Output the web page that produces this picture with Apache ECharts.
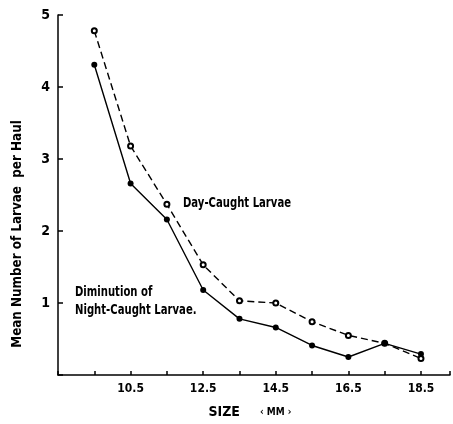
<!DOCTYPE html>
<html><head><meta charset="utf-8">
<script src="https://cdn.jsdelivr.net/npm/echarts@6/dist/echarts.min.js"></script>
<style>html,body{margin:0;padding:0;background:#fff}#c{width:453px;height:424px}</style>
</head><body><div id="c"></div>
<script>
const sizes = [9.5, 10.5, 11.5, 12.5, 13.5, 14.5, 15.5, 16.5, 17.5, 18.5];
const dayCaught = [4.78, 3.18, 2.37, 1.53, 1.03, 1.0, 0.74, 0.55, 0.44, 0.23];
const nightCaught = [4.31, 2.66, 2.16, 1.18, 0.78, 0.66, 0.41, 0.25, 0.44, 0.29];
const xTickLabels = [10.5, 12.5, 14.5, 16.5, 18.5];
const yTickLabels = [1, 2, 3, 4, 5];

const FONT = '"DejaVu Sans Condensed", "DejaVu Sans", sans-serif';
const chart = echarts.init(document.getElementById('c'));
chart.setOption({
  animation: false,
  backgroundColor: '#fff',
  grid: {left: 58, right: 0, top: 15, bottom: 44},
  xAxis: {
    type: 'value', min: 8.5, max: 19.3, interval: 1,
    axisLine: {lineStyle: {color: '#000', width: 1.5}},
    axisTick: {inside: true, length: 4, lineStyle: {color: '#000', width: 1.5}},
    splitLine: {show: false},
    showMaxLabel: false,
    axisLabel: {
      color: '#000', fontFamily: FONT, fontWeight: 'bold', fontSize: 12, margin: 8,
      formatter: v => xTickLabels.some(t => Math.abs(t - v) < 1e-6) ? v.toFixed(1) : ''
    },
    name: '{a|SIZE}{s|}{b|\u2039 MM \u203a}', nameLocation: 'middle', nameGap: 30,
    nameTextStyle: {
      color: '#000', padding: [0, 8, 0, 0],
      rich: {
        a: {fontFamily: FONT, fontWeight: 'bold', fontSize: 14, color: '#000'},
        s: {width: 20},
        b: {fontFamily: FONT, fontWeight: 'bold', fontSize: 10, color: '#000'}
      }
    }
  },
  yAxis: {
    type: 'value', min: 0, max: 5, interval: 1,
    axisLine: {show: true, lineStyle: {color: '#000', width: 1.5}},
    axisTick: {show: true, inside: true, length: 5, lineStyle: {color: '#000', width: 1.5}},
    splitLine: {show: false},
    axisLabel: {
      color: '#000', fontFamily: FONT, fontWeight: 'bold', fontSize: 14, margin: 8,
      formatter: v => yTickLabels.includes(v) ? String(v) : ''
    }
  },
  series: [
    {
      type: 'line', data: sizes.map((s, i) => [s, dayCaught[i]]),
      symbol: 'emptyCircle', symbolSize: 5,
      lineStyle: {color: '#000', width: 1.4, type: [7, 4]},
      itemStyle: {color: '#000', borderColor: '#000', borderWidth: 1.3}
    },
    {
      type: 'line', data: sizes.map((s, i) => [s, nightCaught[i]]),
      symbol: 'circle', symbolSize: 6,
      lineStyle: {color: '#000', width: 1.4},
      itemStyle: {color: '#000'}
    }
  ],
  graphic: [
    {type: 'text', x: 17, y: 234, rotation: Math.PI / 2, scaleX: 0.95,
     style: {text: 'Mean Number of Larvae  per Haul', fill: '#000', font: 'bold 14px ' + FONT, align: 'center', verticalAlign: 'middle'}},
    {type: 'text', x: 183, y: 203, scaleX: 0.8,
     style: {text: 'Day-Caught Larvae', fill: '#000', font: 'bold 14px ' + FONT, verticalAlign: 'middle'}},
    {type: 'text', x: 75, y: 292, scaleX: 0.8,
     style: {text: 'Diminution of', fill: '#000', font: 'bold 14px ' + FONT, verticalAlign: 'middle'}},
    {type: 'text', x: 75, y: 310, scaleX: 0.8,
     style: {text: 'Night-Caught Larvae.', fill: '#000', font: 'bold 14px ' + FONT, verticalAlign: 'middle'}}
  ]
});
</script></body></html>
